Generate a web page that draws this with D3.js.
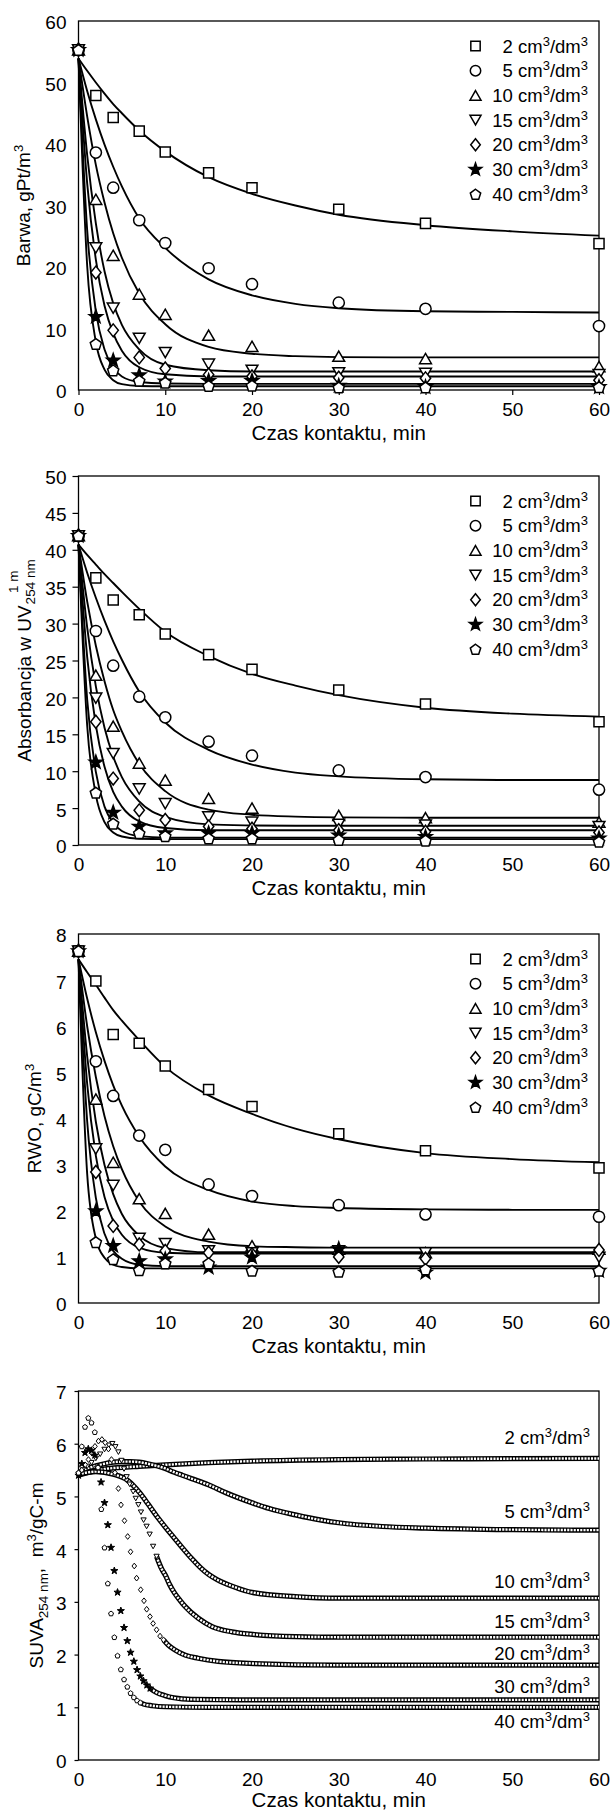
<!DOCTYPE html>
<html>
<head>
<meta charset="utf-8">
<script src="https://cdnjs.cloudflare.com/ajax/libs/d3/7.8.5/d3.min.js"></script>
<style>
  body { margin: 0; background: #fff; }
  svg { display: block; font-family: "Liberation Sans", Arial, sans-serif; }
</style>
</head>
<body>
<script>
//==DATA==//
const times = [0, 2, 4, 7, 10, 15, 20, 30, 40, 60];
const fitTimes = [0, 1, 2, 3, 4, 5, 7, 10, 15, 20, 25, 30, 40, 50, 60];
const doses = ["2", "5", "10", "15", "20", "30", "40"];

// Barwa, gPt/m3 - measured points
const barwa2 = [55.3, 47.9, 44.3, 42.1, 38.7, 35.3, 32.9, 29.4, 27.1, 23.8];
const barwa5 = [55.3, 38.6, 32.9, 27.6, 23.9, 19.8, 17.2, 14.2, 13.2, 10.4];
const barwa10 = [55.3, 31.0, 21.9, 15.6, 12.3, 8.9, 7.1, 5.5, 5.1, 3.8];
const barwa15 = [55.3, 23.1, 13.3, 8.4, 6.1, 4.2, 3.2, 2.8, 2.7, 2.5];
const barwa20 = [55.3, 19.1, 9.7, 5.3, 3.5, 2.5, 2.2, 2.0, 1.9, 1.6];
const barwa30 = [55.3, 11.9, 4.8, 2.4, 1.4, 1.5, 1.5, 0.7, 0.5, 0.5];
const barwa40 = [55.3, 7.5, 3.2, 1.5, 1.2, 0.65, 0.7, 0.4, 0.4, 0.45];
// Barwa - fitted lines read at fitTimes
const fitBarwa2 = [53.9, 51.9, 50.0, 48.2, 46.5, 45.0, 42.2, 38.8, 34.6, 31.9, 30.0, 28.5, 26.8, 25.8, 25.1];
const fitBarwa5 = [53.9, 48.6, 44.0, 39.9, 36.3, 33.1, 27.9, 23.1, 18.0, 15.4, 14.0, 13.3, 12.8, 12.7, 12.6];
const fitBarwa10 = [53.9, 44.5, 36.6, 30.5, 25.5, 21.5, 15.7, 10.7, 7.0, 5.9, 5.5, 5.35, 5.3, 5.3, 5.3];
const fitBarwa15 = [53.9, 38.2, 27.1, 19.3, 14.1, 10.6, 6.6, 4.1, 3.2, 3.0, 3.0, 3.0, 3.0, 3.0, 3.0];
const fitBarwa20 = [53.9, 33.6, 21.2, 13.7, 9.2, 6.4, 3.7, 2.55, 2.2, 2.2, 2.2, 2.2, 2.2, 2.2, 2.2];
const fitBarwa30 = [53.9, 26.0, 12.8, 6.6, 3.6, 2.2, 1.3, 1.05, 1.0, 1.0, 1.0, 1.0, 1.0, 1.0, 1.0];
const fitBarwa40 = [53.9, 20.2, 7.8, 3.3, 1.6, 0.95, 0.65, 0.6, 0.6, 0.6, 0.6, 0.6, 0.6, 0.6, 0.6];

// Absorbancja UV254 - measured points
const abs2 = [41.9, 36.2, 33.2, 31.2, 28.6, 25.8, 23.8, 21.0, 19.1, 16.7];
const abs5 = [41.9, 29.0, 24.3, 20.1, 17.3, 14.0, 12.1, 10.1, 9.2, 7.5];
const abs10 = [41.9, 23.0, 16.1, 11.1, 8.8, 6.3, 5.0, 4.0, 3.7, 3.1];
const abs15 = [41.9, 19.9, 12.4, 7.6, 5.6, 3.8, 3.1, 2.8, 2.7, 2.5];
const abs20 = [41.9, 16.7, 9.0, 4.7, 3.4, 2.5, 2.2, 2.0, 1.8, 1.7];
const abs30 = [41.9, 11.2, 4.4, 2.5, 1.6, 1.6, 1.6, 1.3, 1.1, 0.9];
const abs40 = [41.9, 7.1, 2.9, 1.6, 1.2, 0.9, 0.9, 0.7, 0.6, 0.45];
// Absorbancja - fitted lines
const fitAbs2 = [40.7, 39.3, 38.0, 36.7, 35.5, 34.3, 32.0, 28.9, 25.6, 23.2, 21.6, 20.3, 18.6, 17.8, 17.4];
const fitAbs5 = [40.7, 36.9, 33.5, 30.4, 27.6, 25.1, 20.8, 16.6, 12.9, 10.9, 9.8, 9.3, 8.9, 8.8, 8.8];
const fitAbs10 = [40.7, 33.0, 27.0, 22.2, 18.3, 15.4, 11.0, 7.3, 4.8, 4.1, 3.85, 3.75, 3.7, 3.7, 3.7];
const fitAbs15 = [40.7, 29.5, 21.5, 15.9, 12.0, 9.2, 5.9, 3.8, 2.8, 2.65, 2.6, 2.6, 2.6, 2.6, 2.6];
const fitAbs20 = [40.7, 25.5, 16.2, 10.6, 7.2, 5.2, 3.2, 2.3, 2.0, 2.0, 2.0, 2.0, 2.0, 2.0, 2.0];
const fitAbs30 = [40.7, 19.7, 9.9, 5.2, 3.0, 1.9, 1.2, 1.0, 1.0, 1.0, 1.0, 1.0, 1.0, 1.0, 1.0];
const fitAbs40 = [40.7, 16.2, 6.8, 3.1, 1.7, 1.15, 0.85, 0.8, 0.8, 0.8, 0.8, 0.8, 0.8, 0.8, 0.8];

// RWO, gC/m3 - measured points
const rwo2 = [7.63, 6.98, 5.82, 5.63, 5.14, 4.63, 4.26, 3.67, 3.30, 2.93];
const rwo5 = [7.63, 5.24, 4.49, 3.63, 3.32, 2.57, 2.32, 2.12, 1.92, 1.87];
const rwo10 = [7.63, 4.42, 3.05, 2.26, 1.94, 1.49, 1.24, 1.17, 1.09, 1.17];
const rwo15 = [7.63, 3.34, 2.55, 1.40, 1.29, 1.13, 1.09, 1.13, 1.09, 0.99];
const rwo20 = [7.63, 2.84, 1.67, 1.27, 1.13, 1.09, 1.06, 1.00, 0.96, 1.15];
const rwo30 = [7.63, 1.99, 1.24, 0.91, 0.95, 0.77, 0.99, 1.17, 0.66, 0.70];
const rwo40 = [7.63, 1.32, 0.95, 0.71, 0.86, 0.86, 0.70, 0.68, 0.73, 0.70];
// RWO - fitted lines
const fitRwo2 = [7.45, 7.17, 6.9, 6.62, 6.35, 6.12, 5.7, 5.12, 4.5, 4.1, 3.78, 3.55, 3.25, 3.12, 3.05];
const fitRwo5 = [7.45, 6.6, 5.87, 5.25, 4.72, 4.28, 3.61, 2.96, 2.45, 2.2, 2.1, 2.06, 2.03, 2.02, 2.02];
const fitRwo10 = [7.45, 6.0, 4.9, 4.05, 3.4, 2.9, 2.2, 1.66, 1.33, 1.23, 1.21, 1.2, 1.2, 1.2, 1.2];
const fitRwo15 = [7.45, 5.35, 3.93, 2.99, 2.36, 1.93, 1.46, 1.19, 1.1, 1.1, 1.1, 1.1, 1.1, 1.1, 1.1];
const fitRwo20 = [7.45, 4.75, 3.19, 2.3, 1.78, 1.48, 1.2, 1.09, 1.07, 1.07, 1.07, 1.07, 1.07, 1.07, 1.07];
const fitRwo30 = [7.45, 3.94, 2.28, 1.5, 1.13, 0.96, 0.83, 0.8, 0.8, 0.8, 0.8, 0.8, 0.8, 0.8, 0.8];
const fitRwo40 = [7.45, 2.8, 1.4, 0.98, 0.83, 0.78, 0.75, 0.75, 0.75, 0.75, 0.75, 0.75, 0.75, 0.75, 0.75];

// SUVA254 - [time, value]; "chain" = densely packed markers, "dots" = separated markers
const suvaChain2 = [[0, 5.40], [1, 5.45], [2, 5.49], [3, 5.52], [5, 5.55], [7, 5.57], [10, 5.6], [15, 5.64], [20, 5.67], [30, 5.7], [40, 5.71], [60, 5.72]];
const suvaChain5 = [[0, 5.45], [1, 5.53], [2, 5.58], [3, 5.62], [4, 5.65], [5, 5.66], [6, 5.66], [7, 5.65], [8, 5.62], [9, 5.58], [10, 5.53], [11, 5.46], [12, 5.40], [13, 5.34], [15, 5.22], [17, 5.07], [20, 4.88], [22, 4.77], [25, 4.65], [28, 4.55], [30, 4.50], [35, 4.43], [40, 4.40], [50, 4.37], [60, 4.36]];
const suvaChain10 = [[0, 5.42], [2, 5.47], [4, 5.42], [5.7, 5.3], [7, 5.08], [8, 4.86], [9, 4.63], [10, 4.42], [11, 4.22], [12, 4.02], [13, 3.83], [14, 3.66], [15, 3.52], [16, 3.42], [18, 3.28], [20, 3.18], [25, 3.1], [30, 3.07], [60, 3.07]];
const suvaDots15 = [[0, 5.42], [0.5, 5.5], [1, 5.57], [1.5, 5.64], [2, 5.72], [2.5, 5.8], [3, 5.89], [3.5, 5.97], [3.9, 6.0], [4.25, 5.94], [4.6, 5.84], [4.95, 5.68], [5.25, 5.52], [5.55, 5.37], [5.9, 5.23], [6.3, 5.09], [6.6, 4.96], [6.9, 4.84], [7.2, 4.7], [7.5, 4.55], [7.85, 4.43], [8.2, 4.28], [8.6, 4.05], [9.0, 3.86]];
const suvaChain15 = [[9.0, 3.86], [9.6, 3.62], [10, 3.51], [10.5, 3.33], [11.1, 3.16], [11.7, 3.03], [12.3, 2.91], [13.8, 2.69], [15.4, 2.53], [17.7, 2.43], [20.3, 2.38], [25, 2.34], [30, 2.33], [60, 2.33]];
const suvaDots20 = [[0, 5.42], [0.38, 5.5], [0.77, 5.6], [1.15, 5.7], [1.55, 5.82], [1.9, 5.95], [2.3, 6.05], [2.7, 6.08], [3.08, 6.02], [3.45, 5.9], [3.8, 5.7], [4.2, 5.45], [4.6, 5.15], [4.9, 4.84], [5.3, 4.54], [5.67, 4.24], [6.0, 3.95], [6.43, 3.68], [6.7, 3.45], [7.17, 3.23], [7.55, 3.02], [7.86, 2.86], [8.24, 2.72], [8.6, 2.59], [9.0, 2.47], [9.4, 2.35], [9.8, 2.28]];
const suvaChain20 = [[9.8, 2.28], [10.35, 2.18], [11.1, 2.09], [12.3, 1.99], [13.8, 1.93], [16.1, 1.87], [20.3, 1.83], [30, 1.8], [60, 1.8]];
const suvaDots30 = [[0, 5.4], [0.38, 5.62], [0.75, 5.83], [1.13, 5.9], [1.5, 5.87], [1.88, 5.78], [2.25, 5.55], [2.6, 5.27], [3.0, 4.88], [3.38, 4.46], [3.75, 4.03], [4.13, 3.59], [4.5, 3.18], [4.88, 2.83], [5.25, 2.51], [5.63, 2.26], [6.0, 2.04], [6.38, 1.87], [6.75, 1.71], [7.13, 1.59], [7.5, 1.5], [7.88, 1.42], [8.25, 1.36]];
const suvaChain30 = [[8.25, 1.36], [9, 1.28], [10, 1.22], [11, 1.18], [13, 1.15], [20, 1.14], [60, 1.14]];
const suvaDots40 = [[0, 5.45], [0.38, 5.95], [0.75, 6.32], [1.13, 6.49], [1.5, 6.40], [1.88, 6.22], [2.25, 5.55], [2.63, 4.76], [3.0, 4.03], [3.38, 3.35], [3.75, 2.78], [4.13, 2.33], [4.5, 1.98], [4.88, 1.72], [5.25, 1.53], [5.63, 1.39], [6.0, 1.27], [6.38, 1.19], [6.75, 1.13], [7.13, 1.09]];
const suvaChain40 = [[7.13, 1.09], [7.5, 1.06], [8.5, 1.03], [10, 1.01], [15, 1.0], [60, 1.0]];

//=SVG AREA=//
const width = 612;
const height = 1812;
const left = 78.5;
const right = 599;
const ph = 369;
const shapes = ["square", "circle", "triangle", "triangleDown", "diamond", "star", "pentagon"];

const svg = d3.select("body")
  .append("svg")
  .attr("width", width)
  .attr("height", height);

const x = d3.scaleLinear().domain([0, 60]).range([left, right]);

//==MARKERS==//
function symbolPath(name, r) {
  const p = d3.path();
  const poly = pts => {
    pts.forEach((q, i) => i ? p.lineTo(q[0], q[1]) : p.moveTo(q[0], q[1]));
    p.closePath();
  };
  const ring = (n, rad, start) => d3.range(n).map(i => {
    const a = start + i * 2 * Math.PI / n;
    return [rad * Math.cos(a), rad * Math.sin(a)];
  });
  if (name === "square") { const s = r * 0.9; poly([[-s, -s], [s, -s], [s, s], [-s, s]]); }
  if (name === "circle") { p.moveTo(r, 0); p.arc(0, 0, r, 0, 2 * Math.PI); p.closePath(); }
  if (name === "triangle") poly(ring(3, r * 1.22, -Math.PI / 2).map(q => [q[0], q[1] + r * 0.3]));
  if (name === "triangleDown") poly(ring(3, r * 1.22, Math.PI / 2).map(q => [q[0], q[1] - r * 0.3]));
  if (name === "diamond") poly([[0, -r * 1.15], [r * 0.92, 0], [0, r * 1.15], [-r * 0.92, 0]]);
  if (name === "pentagon") poly(ring(5, r * 1.05, -Math.PI / 2).map(q => [q[0], q[1] + r * 0.1]));
  if (name === "star") poly(d3.range(10).map(i => {
    const a = -Math.PI / 2 + i * Math.PI / 5, rad = i % 2 ? r * 0.5 : r * 1.25;
    return [rad * Math.cos(a), rad * Math.sin(a)];
  }));
  return p.toString();
}

function marker(g, name, cx, cy, r, sw) {
  g.append("path")
    .attr("d", symbolPath(name, r))
    .attr("transform", `translate(${cx},${cy})`)
    .attr("fill", name === "star" ? "#000" : "#fff")
    .attr("stroke", "#000")
    .attr("stroke-width", sw);
}

// "2 cm3/dm3" with superscripts
function cmText(t, dose) {
  t.append("tspan").text(dose + " cm");
  t.append("tspan").attr("dy", -7).attr("font-size", 13).text("3");
  t.append("tspan").attr("dy", 7).text("/dm");
  t.append("tspan").attr("dy", -7).attr("font-size", 13).text("3");
}

//==AXES AND FRAME==//
function frame(top, max, step, xts, yts) {
  const y = d3.scaleLinear().domain([0, max]).range([top + ph, top]);
  const g = svg.append("g");

  g.append("g")
    .attr("transform", `translate(0,${top + ph})`)
    .call(d3.axisBottom(x).tickValues(d3.range(0, 61, 10)).tickFormat(d3.format("d"))
      .tickSize(xts).tickSizeOuter(0).tickPadding(12.2 - xts))
    .call(a => a.select(".domain").remove())
    .attr("font-size", 19).attr("font-family", null);

  g.append("g")
    .attr("transform", `translate(${left},0)`)
    .call(d3.axisLeft(y).tickValues(d3.range(0, max + step / 2, step)).tickFormat(d3.format("d"))
      .tickSize(yts).tickSizeOuter(0).tickPadding(12 - yts))
    .call(a => a.select(".domain").remove())
    .attr("font-size", 19).attr("font-family", null)
    .selectAll("text").attr("dy", "0.42em");

  g.selectAll(".tick line").attr("stroke-width", 1.2);
  g.selectAll(".tick text").attr("fill", "#000");

  g.append("rect")
    .attr("x", left).attr("y", top)
    .attr("width", right - left).attr("height", ph)
    .attr("fill", "none").attr("stroke", "#000").attr("stroke-width", 1.3);

  g.append("text")
    .attr("x", (left + right) / 2).attr("y", Math.min(top + ph + 50, height - 5))
    .attr("text-anchor", "middle").attr("font-size", 20.5)
    .text("Czas kontaktu, min");
  return y;
}

function yTitle(bx, cy) {
  return svg.append("text")
    .attr("transform", `translate(${bx},${cy}) rotate(-90)`)
    .attr("text-anchor", "middle")
    .attr("font-size", 19);
}

//==THREE PANELS WITH POINTS AND FITTED LINES==//
function drawPanel(top, max, step, xts, yts, marks, fits) {
  const y = frame(top, max, step, xts, yts);

  const line = d3.line()
    .x((d, i) => x(fitTimes[i]))
    .y(d => y(d))
    .curve(d3.curveMonotoneX);

  svg.append("g")
    .selectAll("path")
    .data(fits)
    .enter()
    .append("path")
    .attr("d", line)
    .attr("fill", "none")
    .attr("stroke", "#000")
    .attr("stroke-width", 1.9);

  const pts = svg.append("g");
  marks.forEach((s, k) => {
    s.forEach((v, i) => marker(pts, shapes[k], x(times[i]), y(v), 5.6, 1.5));
  });

  // legend
  const lg = svg.append("g");
  doses.forEach((d, k) => {
    const ry = top + 25 + k * 24.7;
    marker(lg, shapes[k], 475.5, ry, 5.2, 1.5);
    lg.append("text")
      .attr("x", 588).attr("y", ry + 6.5)
      .attr("text-anchor", "end").attr("font-size", 18.5)
      .call(t => cmText(t, d));
  });
  return y;
}

drawPanel(21, 60, 10, 5, 0,
  [barwa2, barwa5, barwa10, barwa15, barwa20, barwa30, barwa40],
  [fitBarwa2, fitBarwa5, fitBarwa10, fitBarwa15, fitBarwa20, fitBarwa30, fitBarwa40]);
yTitle(29.5, 21 + ph / 2).call(t => {
  t.append("tspan").text("Barwa, gPt/m");
  t.append("tspan").attr("dy", -7).attr("font-size", 13).text("3");
});

drawPanel(476, 50, 5, 0, 6,
  [abs2, abs5, abs10, abs15, abs20, abs30, abs40],
  [fitAbs2, fitAbs5, fitAbs10, fitAbs15, fitAbs20, fitAbs30, fitAbs40]);
// stacked super/subscript on UV
{
  const g = svg.append("g").attr("transform", `translate(31,${476 + ph / 2}) rotate(-90)`);
  const main = g.append("text").attr("font-size", 19).text("Absorbancja w UV");
  const sub = g.append("text").attr("font-size", 13.5).attr("y", 4).text("254 nm");
  const sup = g.append("text").attr("font-size", 13.5).attr("y", -13).text("1 m");
  const lm = main.node().getComputedTextLength();
  const ls = sub.node().getComputedTextLength();
  const x0 = -(lm + ls + 1) / 2;
  main.attr("x", x0);
  sub.attr("x", x0 + lm + 1);
  sup.attr("x", x0 + lm + 1 + (ls - sup.node().getComputedTextLength()) / 2);
}

drawPanel(934, 8, 1, 0, 0,
  [rwo2, rwo5, rwo10, rwo15, rwo20, rwo30, rwo40],
  [fitRwo2, fitRwo5, fitRwo10, fitRwo15, fitRwo20, fitRwo30, fitRwo40]);
yTitle(41, 934 + ph / 2).call(t => {
  t.append("tspan").text("RWO, gC/m");
  t.append("tspan").attr("dy", -7).attr("font-size", 13).text("3");
});

//==SUVA PANEL==//
const top4 = 1391;
const y4 = frame(top4, 7, 1, 0, 4);

yTitle(43, top4 + ph / 2).call(t => {
  t.append("tspan").text("SUVA");
  t.append("tspan").attr("dy", 5).attr("font-size", 13.5).text("254 nm");
  t.append("tspan").attr("dy", -5).text(",\u00a0\u00a0m");
  t.append("tspan").attr("dy", -7).attr("font-size", 13).text("3");
  t.append("tspan").attr("dy", 7).text("/gC-m");
});

const chainLine = d3.line()
  .x(d => x(d[0]))
  .y(d => y4(d[1]))
  .curve(d3.curveMonotoneX);

const chains = [suvaChain2, suvaChain5, suvaChain10, suvaChain15, suvaChain20, suvaChain30, suvaChain40];
const dots = [[], [], [], suvaDots15, suvaDots20, suvaDots30, suvaDots40];

const cg = svg.append("g");
chains.forEach(c => {
  cg.append("path").attr("d", chainLine(c))
    .attr("fill", "none").attr("stroke", "#000").attr("stroke-width", 5.2);
  cg.append("path").attr("d", chainLine(c))
    .attr("fill", "none").attr("stroke", "#fff").attr("stroke-width", 2.4)
    .attr("stroke-dasharray", "2.1 1.15");
});

const dg = svg.append("g");
dots.forEach((s, k) => {
  s.forEach(d => marker(dg, shapes[k], x(d[0]), y4(d[1]), k === 5 ? 3.0 : 2.5, 1.0));
});

// labels at the right end of each curve
const labelVal = [6.11, 4.71, 3.38, 2.62, 2.02, 1.39, 0.73];
doses.forEach((d, k) => {
  svg.append("text")
    .attr("x", 590).attr("y", y4(labelVal[k]) + 6.5)
    .attr("text-anchor", "end").attr("font-size", 18.5)
    .call(t => cmText(t, d));
});
</script>
</body>
</html>
